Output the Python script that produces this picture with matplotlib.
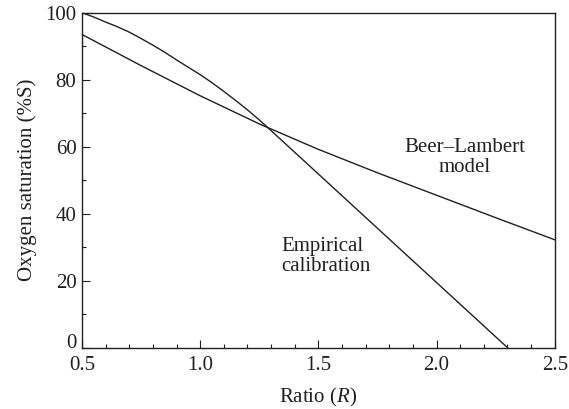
import numpy as np
from matplotlib import pyplot as plt
from matplotlib.ticker import MultipleLocator

plt.rcParams['font.family'] = 'Liberation Serif'
plt.rcParams['mathtext.fontset'] = 'custom'
plt.rcParams['mathtext.rm'] = 'Liberation Serif'
plt.rcParams['mathtext.it'] = 'Liberation Serif:italic'

### empirical calibration curve
r_emp = [0.5, 0.55, 0.6, 0.65, 0.7, 0.75, 0.8, 0.85, 0.9, 0.95, 1.0,
         1.05, 1.1, 1.15, 1.2, 1.25, 1.3, 2.3]
s_emp = [100, 98.7, 97.2, 95.8, 94.2, 92.3, 90.3, 88.2, 85.9, 83.7, 81.5,
         79.1, 76.5, 73.8, 71.0, 68.0, 64.8, 0]

### beer-lambert model
r_bl = [0.5, 0.75, 1.0, 1.25, 1.5, 1.75, 2.0, 2.25, 2.5]
s_bl = [93.5, 84.2, 75.2, 66.8, 59.2, 52.2, 45.5, 38.8, 32.2]

ink = "#231f20"

fig = plt.figure(figsize=(5.69, 4.09), dpi=100)
ax = fig.add_axes([0.144, 0.150, 0.831, 0.819])

ax.plot(r_emp, s_emp, color=ink, lw=1.0)
ax.plot(r_bl, s_bl, color=ink, lw=1.0)

ax.text(2.12, 56.7, "Beer\u2013Lambert\nmodel", ha="center", va="center",
        fontsize=15, color=ink, linespacing=1.05)
ax.text(1.343, 27.2, "Empirical\ncalibration", ha="left", va="center",
        fontsize=15, color=ink, linespacing=1.05)

ax.set_xlim(0.5, 2.5)
ax.set_ylim(0, 100)
ax.xaxis.set_major_locator(MultipleLocator(0.5))
ax.xaxis.set_minor_locator(MultipleLocator(0.1))
ax.yaxis.set_major_locator(MultipleLocator(20))
ax.yaxis.set_minor_locator(MultipleLocator(10))
ax.xaxis.set_major_formatter(plt.FuncFormatter(lambda v, p: "%.1f" % v))

ax.tick_params(which="both", direction="in", top=False, right=False,
               labelsize=15, colors=ink, width=0.8)
ax.tick_params(axis="x", which="major", length=6, pad=6)
ax.tick_params(axis="y", which="major", length=6, pad=4)
ax.tick_params(which="minor", length=3)
for s in ax.spines.values():
    s.set_linewidth(1.0)
    s.set_color(ink)

ax.set_xlabel("Ratio ($R$)", fontsize=15, color=ink, labelpad=8)
ax.set_ylabel("Oxygen saturation (%S)", fontsize=15, color=ink, labelpad=6)

# sit the "0" on the axis so it clears the "0.5" below it
fig.canvas.draw()
for lab in ax.yaxis.get_majorticklabels():
    if lab.get_text() == "0":
        lab.set_va("baseline")

fig.savefig("out.png", dpi=100)
